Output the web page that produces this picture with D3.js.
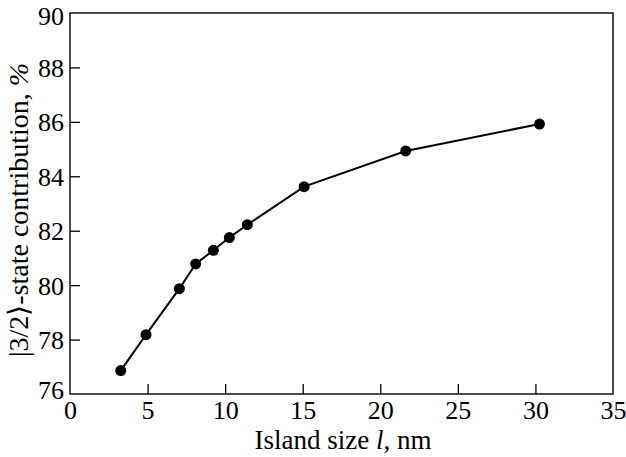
<!DOCTYPE html>
<html>
<head>
<meta charset="utf-8">
<script src="https://cdn.jsdelivr.net/npm/d3@7"></script>
<style>
  body { margin: 0; background: #fff; }
</style>
</head>
<body>
<svg id="chart"></svg>
<script>
// island size (nm) and |3/2> contribution (%)
var sizes = [3.27, 4.9, 7.05, 8.1, 9.24, 10.27, 11.43, 15.09, 21.64, 30.26];
var contrib = [76.86, 78.18, 79.87, 80.78, 81.28, 81.75, 82.22, 83.62, 84.93, 85.92];
var xTicks = [0, 5, 10, 15, 20, 25, 30, 35];
var yTicks = [76, 78, 80, 82, 84, 86, 88, 90];

var FONT = "'Liberation Serif', 'Times New Roman', serif";
var W = 626, H = 457;
var margin = { top: 13, right: 13, bottom: 63, left: 70 },
    width = W - margin.left - margin.right,
    height = H - margin.top - margin.bottom;

var svg = d3.select("#chart").attr("width", W).attr("height", H);
var g = svg.append("g")
    .attr("transform", "translate(" + margin.left + "," + margin.top + ")");

var x = d3.scaleLinear().domain([0, 35]).range([0, width]);
var y = d3.scaleLinear().domain([76, 90]).range([height, 0]);

// frame
g.append("rect")
    .attr("width", width).attr("height", height)
    .attr("fill", "none").attr("stroke", "#000").attr("stroke-width", 1.4);

// axes, ticks point inward
var xa = g.append("g")
    .attr("transform", "translate(0," + height + ")")
    .call(d3.axisBottom(x).tickValues(xTicks).tickSize(-10).tickPadding(7).tickSizeOuter(0));
var ya = g.append("g")
    .call(d3.axisLeft(y).tickValues(yTicks).tickSize(-10).tickPadding(6).tickSizeOuter(0));

[xa, ya].forEach(function (a) {
    a.attr("font-family", null).attr("font-size", null);
    a.select(".domain").remove();
    a.selectAll(".tick line").attr("stroke", "#000").attr("stroke-width", 1.3);
    a.selectAll(".tick text")
        .style("font-family", FONT)
        .style("font-size", "26px")
        .attr("fill", "#000");
});
// no tick marks at the ends (frame covers them)
xa.selectAll(".tick line").filter(function (d) { return d === 0 || d === 35; }).remove();
ya.selectAll(".tick line").filter(function (d) { return d === 76 || d === 90; }).remove();
// end labels are nudged inward like in the original
ya.selectAll(".tick text")
    .attr("dy", "0.35em")
    .attr("y", function (d) { return d === 76 ? -5 : d === 90 ? 2 : 0; });

var pts = sizes.map(function (s, i) { return [s, contrib[i]]; });

g.append("path")
    .datum(pts)
    .attr("fill", "none")
    .attr("stroke", "#000")
    .attr("stroke-width", 2)
    .attr("d", d3.line()
        .x(function (d) { return x(d[0]); })
        .y(function (d) { return y(d[1]); }));

g.selectAll(".dot")
    .data(pts)
    .enter().append("circle")
    .attr("class", "dot")
    .attr("cx", function (d) { return x(d[0]); })
    .attr("cy", function (d) { return y(d[1]); })
    .attr("r", 5.5)
    .attr("fill", "#000");

// axis titles
var xt = svg.append("text")
    .attr("x", 343)
    .attr("y", 449)
    .attr("text-anchor", "middle")
    .style("font-family", FONT)
    .style("font-size", "27px");
xt.append("tspan").text("Island size ");
xt.append("tspan").style("font-style", "italic").text("l");
xt.append("tspan").text(", nm");

var yt = svg.append("text")
    .attr("transform", "translate(28,210) rotate(-90)")
    .attr("text-anchor", "middle")
    .style("font-family", FONT)
    .style("font-size", "28px");
yt.append("tspan").text("|3/2\u27E9-state contribution, ");
yt.append("tspan").style("font-style", "italic").text("%");
</script>
</body>
</html>
